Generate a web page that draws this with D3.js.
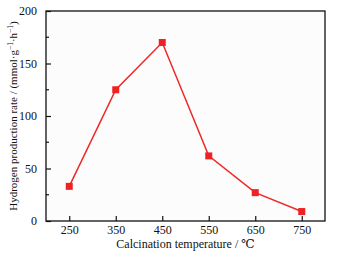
<!DOCTYPE html>
<html>
<head>
<meta charset="utf-8">
<script src="https://cdn.jsdelivr.net/npm/d3@7"></script>
<style>
  body { margin: 0; background: #fff; }
  text { font-family: "Liberation Serif", "DejaVu Serif", serif; fill: #111; }
</style>
</head>
<body>
<script>
const width = 341,
  height = 257;

const temps = [250, 350, 450, 550, 650, 750];
const rates = [33, 125, 170, 62, 27, 9];
const xTicks = [250, 350, 450, 550, 650, 750];
const yTicks = [0, 50, 100, 150, 200];

const margin = { top: 11, right: 16, bottom: 36, left: 46 };

const x = d3.scaleLinear()
  .domain([200, 800])
  .range([margin.left, width - margin.right]);

const y = d3.scaleLinear()
  .domain([0, 200])
  .range([height - margin.bottom, margin.top]);

const svg = d3.select('body').append('svg')
  .attr('width', width)
  .attr('height', height);

svg.append('rect')
  .attr('x', margin.left)
  .attr('y', margin.top)
  .attr('width', x.range()[1] - x.range()[0])
  .attr('height', y.range()[0] - y.range()[1])
  .attr('fill', '#fcfcfc')
  .attr('stroke', '#111')
  .attr('stroke-width', 1.3);

// x axis, ticks pointing in
const xAxis = svg.append('g')
  .attr('transform', `translate(0,${y(0)})`)
  .call(d3.axisBottom(x).tickValues(xTicks).tickSize(-5).tickPadding(4).tickFormat(d3.format('')));
xAxis.select('.domain').remove();
xAxis.selectAll('line').attr('stroke', '#111').attr('stroke-width', 1.2);
xAxis.selectAll('text').attr('font-size', 12).attr('font-family', '"Liberation Serif", serif').attr('fill', '#111');

// y minor ticks
svg.append('g')
  .selectAll('line')
  .data(d3.range(25, 200, 50))
  .enter().append('line')
  .attr('x1', x(200))
  .attr('x2', x(200) + 3)
  .attr('y1', d => y(d))
  .attr('y2', d => y(d))
  .attr('stroke', '#111')
  .attr('stroke-width', 1.2);

const yAxis = svg.append('g')
  .attr('transform', `translate(${x(200)},0)`)
  .call(d3.axisLeft(y).tickValues(yTicks).tickSize(-5).tickPadding(9));
yAxis.select('.domain').remove();
yAxis.selectAll('line').attr('stroke', '#111').attr('stroke-width', 1.2);
yAxis.selectAll('text').attr('font-size', 12).attr('font-family', '"Liberation Serif", serif').attr('fill', '#111');

const data = temps.map((t, i) => ({ t: t, r: rates[i] }));

svg.append('path')
  .datum(data)
  .attr('fill', 'none')
  .attr('stroke', '#f02828')
  .attr('stroke-width', 1.5)
  .attr('d', d3.line().x(d => x(d.t)).y(d => y(d.r)));

svg.append('g')
  .selectAll('rect')
  .data(data)
  .enter().append('rect')
  .attr('x', d => x(d.t) - 3.5)
  .attr('y', d => y(d.r) - 3.5)
  .attr('width', 7)
  .attr('height', 7)
  .attr('fill', '#ee2222');

svg.append('text')
  .attr('x', (x.range()[0] + x.range()[1]) / 2)
  .attr('y', 248)
  .attr('text-anchor', 'middle')
  .attr('font-size', 12)
  .text('Calcination temperature / \u2103');

const ylab = svg.append('text')
  .attr('transform', `translate(17,${(y.range()[0] + y.range()[1]) / 2}) rotate(-90)`)
  .attr('text-anchor', 'middle')
  .attr('font-size', 11);
ylab.append('tspan').text('Hydrogen production rate / (mmol\u00b7g');
ylab.append('tspan').attr('dy', -4).attr('font-size', 7.5).text('\u22121');
ylab.append('tspan').attr('dy', 4).text('\u00b7h');
ylab.append('tspan').attr('dy', -4).attr('font-size', 7.5).text('\u22121');
ylab.append('tspan').attr('dy', 4).text(')');
</script>
</body>
</html>
